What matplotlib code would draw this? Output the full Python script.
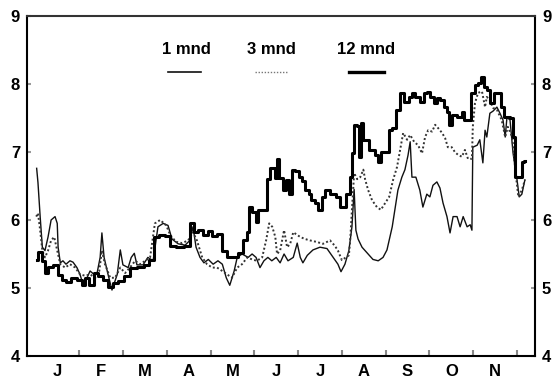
import matplotlib
matplotlib.use("Agg")
import matplotlib.pyplot as plt
from matplotlib.lines import Line2D

plt.rcParams['font.family'] = ['Liberation Sans', 'DejaVu Sans']
plt.rcParams['font.weight'] = 'bold'

# Time axis in months from 1 January (0 = start of January)
months = ["J", "F", "M", "A", "M", "J", "J", "A", "S", "O", "N"]

# 12-month rate
t12 = [0.03, 0.11, 0.18, 0.26, 0.34, 0.45, 0.57, 0.64, 0.76, 0.87, 1.02, 1.10, 1.18, 1.29,
       1.37, 1.48, 1.59, 1.71, 1.82, 1.94, 2.09, 2.24, 2.39, 2.55, 2.66, 2.77, 2.89, 3.03,
       3.12, 3.30, 3.49, 3.56, 3.67, 3.76, 3.88, 3.99, 4.10, 4.21, 4.30, 4.44, 4.58, 4.68,
       4.79, 4.86, 4.90, 5.00, 5.06, 5.11, 5.25, 5.31, 5.43, 5.50, 5.54, 5.61, 5.68, 5.77,
       5.82, 5.89, 5.98, 6.05, 6.11, 6.21, 6.27, 6.34, 6.43, 6.50, 6.57, 6.68, 6.80, 6.91,
       7.00, 7.07, 7.14, 7.21, 7.26, 7.30, 7.37, 7.42, 7.46, 7.51, 7.58, 7.65, 7.71, 7.80,
       7.87, 7.94, 8.03, 8.10, 8.21, 8.28, 8.37, 8.49, 8.56, 8.63, 8.72, 8.83, 8.90, 8.97,
       9.06, 9.13, 9.20, 9.29, 9.36, 9.42, 9.47, 9.58, 9.70, 9.77, 9.81, 9.93, 9.99, 10.09,
       10.15, 10.20, 10.27, 10.34, 10.43, 10.50, 10.61, 10.68, 10.73, 10.79, 10.89, 10.91,
       11.00, 11.07, 11.14, 11.18]
v12 = [5.41, 5.53, 5.39, 5.22, 5.31, 5.34, 5.19, 5.12, 5.09, 5.14, 5.12, 5.04, 5.14, 5.04,
       5.22, 5.17, 5.12, 5.02, 5.07, 5.10, 5.17, 5.29, 5.31, 5.34, 5.41, 5.75, 5.78, 5.76,
       5.62, 5.60, 5.62, 5.95, 5.82, 5.86, 5.78, 5.84, 5.76, 5.80, 5.55, 5.45, 5.46, 5.52,
       5.70, 5.82, 6.19, 6.12, 5.97, 6.14, 6.15, 6.60, 6.76, 6.62, 6.90, 6.62, 6.44, 6.59,
       6.38, 6.74, 6.72, 6.63, 6.58, 6.44, 6.38, 6.29, 6.25, 6.15, 6.34, 6.44, 6.38, 6.34,
       6.19, 6.19, 6.38, 6.63, 6.98, 7.40, 7.38, 6.93, 7.43, 7.18, 7.18, 7.03, 7.03, 6.96,
       6.85, 7.00, 7.00, 7.32, 7.35, 7.62, 7.87, 7.74, 7.81, 7.87, 7.81, 7.74, 7.87, 7.88,
       7.81, 7.72, 7.79, 7.76, 7.66, 7.59, 7.40, 7.54, 7.51, 7.59, 7.47, 7.47, 7.87, 7.99,
       8.01, 8.10, 7.96, 7.91, 7.72, 7.87, 7.87, 7.66, 7.51, 7.52, 7.50, 7.22,
       6.63, 6.63, 6.85, 6.87]

# 1-month rate
t1 = [0.03, 0.06, 0.11, 0.16, 0.22, 0.29, 0.36, 0.45, 0.50, 0.52, 0.57, 0.63, 0.70, 0.79,
      0.86, 0.95, 1.02, 1.09, 1.18, 1.25, 1.34, 1.41, 1.48, 1.52, 1.57, 1.66, 1.75, 1.87,
      1.94, 2.00, 2.12, 2.19, 2.26, 2.32, 2.46, 2.57, 2.69, 2.80, 2.92, 3.03, 3.12, 3.26,
      3.42, 3.53, 3.60, 3.67, 3.76, 3.85, 3.95, 4.06, 4.17, 4.27, 4.36, 4.44, 4.54, 4.61,
      4.72, 4.86, 4.95, 5.04, 5.13, 5.22, 5.31, 5.40, 5.50, 5.59, 5.68, 5.77, 5.89, 5.98,
      6.05, 6.11, 6.21, 6.34, 6.50, 6.66, 6.80, 6.91, 6.98, 7.07, 7.16, 7.23, 7.28, 7.32,
      7.37, 7.46, 7.60, 7.71, 7.83, 7.94, 8.03, 8.15, 8.21, 8.28, 8.37, 8.44, 8.51, 8.56,
      8.60, 8.69, 8.78, 8.85, 8.94, 9.01, 9.08, 9.17, 9.24, 9.31, 9.40, 9.47, 9.54, 9.63,
      9.70, 9.77, 9.86, 9.93, 9.97, 9.99, 10.09, 10.15, 10.22, 10.27, 10.31, 10.38, 10.45,
      10.54, 10.61, 10.68, 10.73, 10.77, 10.84, 10.91, 11.00, 11.05, 11.11, 11.18]
v1 = [6.76, 6.55, 6.05, 5.60, 5.55, 5.75, 6.00, 6.05, 5.95, 5.60, 5.37, 5.40, 5.35, 5.40,
      5.38, 5.30, 5.20, 5.05, 5.15, 5.25, 5.20, 5.22, 5.45, 5.81, 5.45, 5.20, 4.97, 5.20,
      5.56, 5.34, 5.30, 5.45, 5.51, 5.34, 5.34, 5.45, 5.40, 5.90, 5.95, 5.92, 5.72, 5.65,
      5.63, 5.70, 5.90, 5.60, 5.45, 5.37, 5.42, 5.35, 5.40, 5.35, 5.15, 5.04, 5.25, 5.45,
      5.50, 5.45, 5.50, 5.45, 5.30, 5.40, 5.45, 5.40, 5.45, 5.37, 5.50, 5.40, 5.45, 5.66,
      5.45, 5.37, 5.48, 5.56, 5.60, 5.58, 5.45, 5.35, 5.24, 5.35, 5.55, 5.90, 6.45, 5.85,
      5.72, 5.60, 5.50, 5.42, 5.40, 5.45, 5.56, 5.90, 6.15, 6.44, 6.63, 6.74, 6.95, 7.15,
      6.63, 6.63, 6.44, 6.19, 6.38, 6.34, 6.51, 6.56, 6.47, 6.25, 6.05, 5.81, 6.05, 6.05,
      5.90, 6.05, 5.90, 5.93, 5.85, 7.07, 7.10, 7.18, 6.84, 7.32, 7.22, 7.57, 7.60,
      7.66, 7.57, 7.47, 7.22, 7.51, 7.47, 6.98, 6.59, 6.34, 6.38, 6.59]

# 3-month rate
t3 = [0.02, 0.06, 0.11, 0.16, 0.22, 0.29, 0.36, 0.43, 0.50, 0.57, 0.68, 0.79, 0.91, 1.02,
      1.14, 1.25, 1.37, 1.46, 1.52, 1.59, 1.71, 1.82, 1.94, 2.05, 2.16, 2.28, 2.39, 2.51,
      2.62, 2.73, 2.85, 2.99, 3.08, 3.21, 3.35, 3.49, 3.60, 3.69, 3.81, 3.92, 4.04, 4.15,
      4.27, 4.38, 4.49, 4.61, 4.72, 4.84, 4.95, 5.06, 5.18, 5.27, 5.34, 5.41, 5.48, 5.52,
      5.59, 5.68, 5.75, 5.82, 5.89, 5.98, 6.05, 6.16, 6.27, 6.41, 6.57, 6.73, 6.84, 6.91,
      7.00, 7.16, 7.19, 7.23, 7.28, 7.35, 7.42, 7.49, 7.53, 7.60, 7.69, 7.80, 7.89, 7.99,
      8.08, 8.17, 8.26, 8.33, 8.40, 8.49, 8.56, 8.65, 8.74, 8.83, 8.90, 8.97, 9.06, 9.13,
      9.20, 9.29, 9.36, 9.42, 9.51, 9.58, 9.65, 9.74, 9.81, 9.88, 9.97, 9.99, 10.04, 10.11,
      10.20, 10.27, 10.31, 10.38, 10.45, 10.54, 10.65, 10.73, 10.79, 10.89, 10.96, 11.03,
      11.11, 11.18]
v3 = [6.05, 6.10, 5.85, 5.55, 5.45, 5.55, 5.70, 5.75, 5.55, 5.35, 5.30, 5.35, 5.30, 5.20,
      5.18, 5.20, 5.15, 5.25, 5.55, 5.35, 5.15, 5.15, 5.30, 5.22, 5.30, 5.40, 5.35, 5.40,
      5.45, 5.95, 6.00, 5.92, 5.78, 5.68, 5.66, 5.70, 5.82, 5.70, 5.45, 5.35, 5.30, 5.30,
      5.25, 5.20, 5.15, 5.30, 5.35, 5.45, 5.42, 5.40, 5.45, 5.70, 5.95, 5.90, 5.75, 5.50,
      5.55, 5.85, 5.60, 5.65, 5.82, 5.78, 5.75, 5.72, 5.70, 5.68, 5.65, 5.70, 5.62, 5.55,
      5.41, 5.48, 5.70, 6.15, 6.69, 6.60, 6.63, 6.74, 6.60, 6.44, 6.29, 6.19, 6.15, 6.25,
      6.34, 6.59, 6.78, 7.03, 7.28, 7.18, 7.25, 7.15, 7.10, 6.98, 7.22, 7.32, 7.30, 7.40,
      7.35, 7.28, 7.20, 7.07, 7.07, 7.00, 6.96, 6.93, 7.03, 6.90, 6.90, 7.37, 7.72, 7.87,
      7.89, 7.66, 7.81, 7.76, 7.65, 7.62, 7.47, 7.22, 7.37, 7.22, 6.74, 6.34,
      6.44, 6.59]

fig = plt.figure(figsize=(5.56, 3.78), dpi=100)
ax = fig.add_axes([0.0486, 0.0582, 0.9136, 0.8995])

ax.plot(t1, v1, color='#111111', lw=1.0)
ax.plot(t3, v3, color='#333333', lw=1.4, linestyle=(0, (1, 1.2)))
ax.plot(t12, v12, color='black', lw=2.2, drawstyle='steps-mid')

ax.set_xlim(-0.19, 11.41)
ax.set_ylim(4, 9)

# month boundaries as ticks, month initials centred between them
ax.set_xticks(range(1, 12))
ax.set_xticklabels([])
ax.set_xticks([i + 0.5 for i in range(len(months))], minor=True)
ax.set_xticklabels(months, minor=True, fontsize=12, fontweight='bold')
ax.tick_params(axis='x', which='major', direction='in', length=4, width=1.5, color='#888888')
ax.tick_params(axis='x', which='minor', length=0, pad=6)

ax.set_yticks(range(4, 10))
ax.tick_params(axis='y', which='major', direction='in', length=3, width=1.5, color='#999999',
               labelsize=12, left=True, right=True, labelleft=True, labelright=True)
ax.tick_params(axis='y', which='major', pad=5)
for lab in ax.get_yticklabels():
    lab.set_fontweight('bold')

for side in ['left', 'right', 'bottom', 'top']:
    ax.spines[side].set_linewidth(1.5)
ax.spines['top'].set_color('#333333')

# legend: label above its line sample
entries = [("1 mnd", 0.313, 0.278, 0.343, dict(color='#111111', lw=1.2)),
           ("3 mnd", 0.482, 0.449, 0.514, dict(color='#777777', lw=1.0, linestyle=(0, (1, 1.2)))),
           ("12 mnd", 0.667, 0.634, 0.703, dict(color='black', lw=2.4))]
for label, xc, x0, x1, style in entries:
    ax.text(xc, 0.900, label, transform=ax.transAxes, ha='center', va='center',
            fontsize=12, fontweight='bold')
    ax.add_line(Line2D([x0, x1], [0.835, 0.835], transform=ax.transAxes, **style))

fig.savefig("out.png", dpi=100)
